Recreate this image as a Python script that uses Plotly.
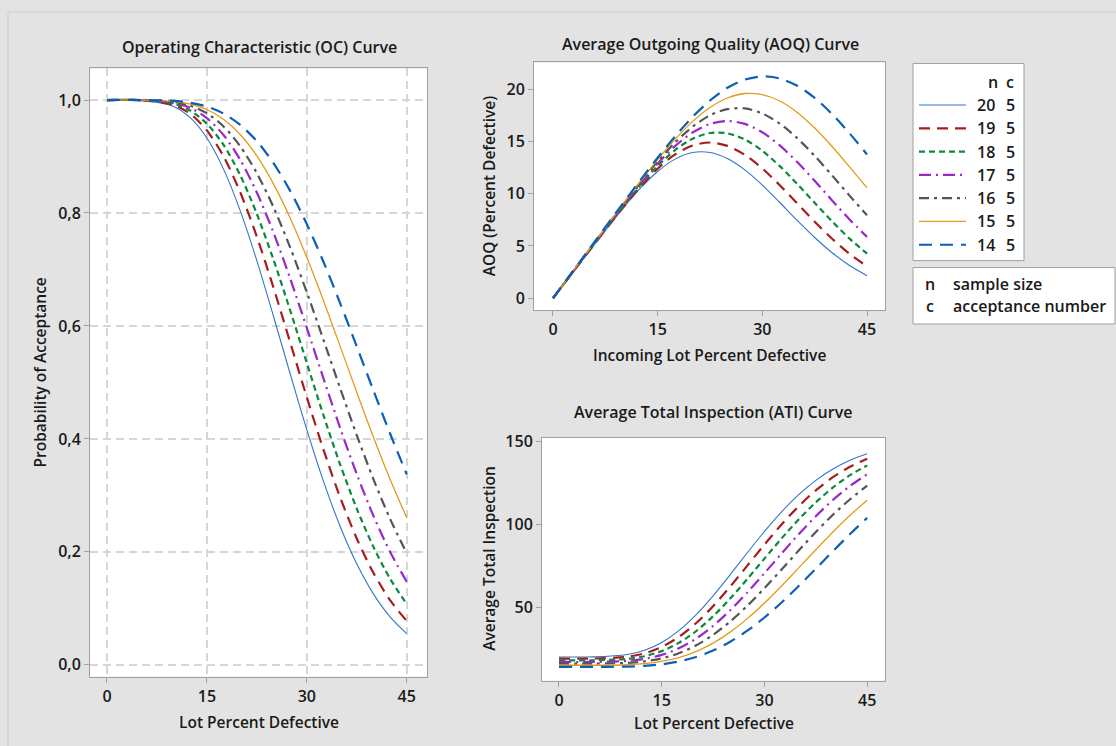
import plotly.graph_objects as go

W, H = 1116, 746

# ---------------- data ----------------
pct = [0, 5, 10, 12.5, 15, 17.5, 20, 22.5, 25, 27.5, 30, 32.5, 35, 37.5, 40, 42.5, 45]
n_values = [20, 19, 18, 17, 16, 15, 14]
c_value = 5

pa_20 = [1.0, 0.9997, 0.9887, 0.9688, 0.9327, 0.8777, 0.8042, 0.7156, 0.6172, 0.5154, 0.4164, 0.3252, 0.2454, 0.1788, 0.1256, 0.0850, 0.0553]
pa_19 = [1.0, 0.9998, 0.9914, 0.9757, 0.9463, 0.9003, 0.8369, 0.7581, 0.6678, 0.5711, 0.4739, 0.3811, 0.2968, 0.2236, 0.1629, 0.1146, 0.0777]
pa_18 = [1.0, 0.9999, 0.9936, 0.9814, 0.9581, 0.9205, 0.8671, 0.7985, 0.7174, 0.6278, 0.5344, 0.4420, 0.3550, 0.2766, 0.2088, 0.1525, 0.1077]
pa_17 = [1.0, 0.9999, 0.9953, 0.9862, 0.9681, 0.9381, 0.8943, 0.8362, 0.7653, 0.6842, 0.5968, 0.5073, 0.4197, 0.3377, 0.2639, 0.2002, 0.1471]
pa_16 = [1.0, 1.0, 0.9967, 0.9900, 0.9765, 0.9533, 0.9183, 0.8706, 0.8103, 0.7392, 0.6598, 0.5755, 0.4900, 0.4067, 0.3288, 0.2586, 0.1976]
pa_15 = [1.0, 1.0, 0.9978, 0.9930, 0.9832, 0.9659, 0.9389, 0.9010, 0.8516, 0.7913, 0.7216, 0.6450, 0.5643, 0.4827, 0.4032, 0.3285, 0.2608]
pa_14 = [1.0, 1.0, 0.9985, 0.9953, 0.9885, 0.9760, 0.9561, 0.9272, 0.8883, 0.8392, 0.7805, 0.7136, 0.6405, 0.5637, 0.4859, 0.4096, 0.3373]

aoq_20 = [0, 4.33, 8.57, 10.50, 12.13, 13.31, 13.94, 13.95, 13.37, 12.28, 10.83, 9.16, 7.44, 5.81, 4.35, 3.13, 2.16]
aoq_19 = [0, 4.37, 8.66, 10.65, 12.40, 13.76, 14.62, 14.90, 14.58, 13.72, 12.42, 10.82, 9.07, 7.32, 5.69, 4.25, 3.05]
aoq_18 = [0, 4.40, 8.74, 10.80, 12.65, 14.18, 15.26, 15.81, 15.78, 15.19, 14.11, 12.64, 10.93, 9.13, 7.35, 5.70, 4.27]
aoq_17 = [0, 4.43, 8.83, 10.93, 12.88, 14.56, 15.86, 16.68, 16.96, 16.68, 15.88, 14.62, 13.03, 11.23, 9.36, 7.54, 5.87]
aoq_16 = [0, 4.47, 8.90, 11.06, 13.09, 14.90, 16.41, 17.50, 18.10, 18.16, 17.68, 16.71, 15.32, 13.62, 11.75, 9.82, 7.94]
aoq_15 = [0, 4.50, 8.98, 11.17, 13.27, 15.21, 16.90, 18.25, 19.16, 19.59, 19.48, 18.87, 17.78, 16.29, 14.52, 12.57, 10.56]
aoq_14 = [0, 4.53, 9.05, 11.28, 13.44, 15.49, 17.34, 18.92, 20.14, 20.92, 21.23, 21.03, 20.33, 19.17, 17.62, 15.78, 13.76]

ati_20 = [20, 20.04, 21.47, 24.06, 28.75, 35.90, 45.45, 56.97, 69.76, 83.00, 95.87, 107.72, 118.10, 126.76, 133.67, 138.95, 142.81]
ati_19 = [19, 19.03, 20.13, 22.18, 26.03, 32.06, 40.37, 50.69, 62.52, 75.19, 87.92, 100.08, 111.12, 120.71, 128.66, 134.99, 139.82]
ati_18 = [18, 18.01, 18.84, 20.46, 23.53, 28.49, 35.54, 44.60, 55.30, 67.13, 79.46, 91.66, 103.14, 113.49, 122.44, 129.87, 135.78]
ati_17 = [17, 17.01, 17.63, 18.84, 21.24, 25.23, 31.06, 38.79, 48.22, 59.00, 70.63, 82.53, 94.18, 105.09, 114.90, 123.37, 130.44]
ati_16 = [16, 16.0, 16.44, 17.34, 19.15, 22.26, 26.95, 33.34, 41.42, 50.95, 61.59, 72.88, 84.34, 95.50, 105.94, 115.35, 123.52]
ati_15 = [15, 15.0, 15.30, 15.95, 17.27, 19.60, 23.25, 28.37, 35.03, 43.17, 52.58, 62.93, 73.82, 84.84, 95.57, 105.65, 114.79]
ati_14 = [14, 14.0, 14.20, 14.64, 15.56, 17.26, 19.97, 23.90, 29.19, 35.87, 43.85, 52.95, 62.89, 73.34, 83.92, 94.29, 104.13]

x_ticks = [0, 15, 30, 45]
oc_ticks = [0.0, 0.2, 0.4, 0.6, 0.8, 1.0]
aoq_ticks = [0, 5, 10, 15, 20]
ati_ticks = [50, 100, 150]

oc_series = [pa_20, pa_19, pa_18, pa_17, pa_16, pa_15, pa_14]
aoq_series = [aoq_20, aoq_19, aoq_18, aoq_17, aoq_16, aoq_15, aoq_14]
ati_series = [ati_20, ati_19, ati_18, ati_17, ati_16, ati_15, ati_14]

# ---------------- styles ----------------
styles = [
    dict(color="#2f76c8", width=1.1, dash="solid"),
    dict(color="#a51d1d", width=2.2, dash="11px,7px"),
    dict(color="#0b8a3c", width=2.2, dash="6px,4px"),
    dict(color="#9b27c9", width=2.2, dash="12px,5px,2px,5px"),
    dict(color="#555555", width=2.2, dash="10px,5px,3px,5px"),
    dict(color="#e59a1c", width=1.3, dash="solid"),
    dict(color="#0a60b4", width=2.2, dash="13px,8px"),
]

FONT = "Open Sans, Noto Sans, DejaVu Sans, sans-serif"
TXT = "#1a1a1a"
AX = "#a0a0a0"


def px(x):
    return x / W


def py(y):
    return 1 - y / H


fig = go.Figure()

for series, axes in ((oc_series, ("x", "y")), (aoq_series, ("x2", "y2")), (ati_series, ("x3", "y3"))):
    for vals, st, n in zip(series, styles, n_values):
        fig.add_trace(go.Scatter(
            x=pct, y=vals, mode="lines", xaxis=axes[0], yaxis=axes[1],
            line=dict(color=st["color"], width=st["width"], dash=st["dash"], shape="spline", smoothing=0.8),
            name=f"{n} {c_value}", showlegend=False, hoverinfo="skip",
        ))

tickfont = dict(family=FONT, size=16, color=TXT, weight=600)
common = dict(showline=True, mirror=True, linecolor=AX, linewidth=1, ticks="outside",
              ticklen=5, tickcolor=AX, tickfont=tickfont, zeroline=False)

fig.update_layout(
    width=W, height=H, autosize=False,
    margin=dict(l=0, r=0, t=0, b=0),
    paper_bgcolor="#e3e3e3", plot_bgcolor="#ffffff",
    separators=",.",
    font=dict(family=FONT, color=TXT),
    xaxis=dict(domain=[px(90), px(427)], range=[-2.55, 48.05], tickvals=x_ticks,
               showgrid=True, gridcolor="#d6d6d6", gridwidth=2, griddash="8px,5px", anchor="y", **common),
    yaxis=dict(domain=[py(676), py(62)], range=[-0.021, 1.056], tickvals=oc_ticks, tickformat=".1f",
               showgrid=True, gridcolor="#d6d6d6", gridwidth=2, griddash="8px,5px", anchor="x", **common),
    xaxis2=dict(domain=[px(534), px(885)], range=[-2.72, 47.58], tickvals=x_ticks,
                showgrid=False, anchor="y2", **common),
    yaxis2=dict(domain=[py(306), py(56)], range=[-1.14, 22.56], tickvals=aoq_ticks,
                showgrid=False, anchor="x2", **common),
    xaxis3=dict(domain=[px(542), px(885)], range=[-2.48, 47.6], tickvals=x_ticks,
                showgrid=False, anchor="y3", **common),
    yaxis3=dict(domain=[py(680), py(435)], range=[5.7, 152.4], tickvals=ati_ticks,
                showgrid=False, anchor="x3", **common),
)

shapes = []
# outer frame
shapes.append(dict(type="rect", xref="paper", yref="paper", x0=px(8), x1=px(1125), y0=py(760), y1=py(5),
                   line=dict(color="#cdcdcd", width=1), fillcolor="rgba(0,0,0,0)", layer="below"))
# legend boxes
shapes.append(dict(type="rect", xref="paper", yref="paper", x0=px(913), x1=px(1024), y0=py(256), y1=py(57),
                   line=dict(color=AX, width=1), fillcolor="#ffffff"))
shapes.append(dict(type="rect", xref="paper", yref="paper", x0=px(913), x1=px(1115), y0=py(320), y1=py(263),
                   line=dict(color=AX, width=1), fillcolor="#ffffff"))

annotations = []
row_y = [99, 122.5, 146, 169.5, 193, 216.5, 240]
lfont = dict(family=FONT, size=16, color=TXT, weight=600)
annotations.append(dict(text="n", x=px(993), y=py(76), xref="paper", yref="paper", showarrow=False,
                        xanchor="center", yanchor="middle", font=lfont))
annotations.append(dict(text="c", x=px(1010), y=py(76), xref="paper", yref="paper", showarrow=False,
                        xanchor="center", yanchor="middle", font=lfont))
for st, n, ry in zip(styles, n_values, row_y):
    shapes.append(dict(type="line", xref="paper", yref="paper", x0=px(919), x1=px(966), y0=py(ry), y1=py(ry),
                       line=dict(color=st["color"], width=st["width"], dash=st["dash"])))
    annotations.append(dict(text=str(n), x=px(997), y=py(ry), xref="paper", yref="paper", showarrow=False,
                            xanchor="right", yanchor="middle", font=lfont))
    annotations.append(dict(text=str(c_value), x=px(1010), y=py(ry), xref="paper", yref="paper", showarrow=False,
                            xanchor="center", yanchor="middle", font=lfont))

for sym, desc, yy in (("n", "sample size", 280), ("c", "acceptance number", 302)):
    annotations.append(dict(text=sym, x=px(930), y=py(yy), xref="paper", yref="paper", showarrow=False,
                            xanchor="center", yanchor="middle", font=lfont))
    annotations.append(dict(text=desc, x=px(951), y=py(yy), xref="paper", yref="paper", showarrow=False,
                            xanchor="left", yanchor="middle", font=lfont))

tfont = dict(family=FONT, size=16, color=TXT, weight=600)
afont = dict(family=FONT, size=15.5, color=TXT, weight=600)
for text, x, y, ang, f in (
    ("Operating Characteristic (OC) Curve", 259, 40, 0, tfont),
    ("Average Outgoing Quality (AOQ) Curve", 710, 37, 0, tfont),
    ("Average Total Inspection (ATI) Curve", 713, 409, 0, tfont),
    ("Probability of Acceptance", 40, 369, -90, afont),
    ("Lot Percent Defective", 259, 722, 0, afont),
    ("AOQ (Percent Defective)", 489, 181, -90, afont),
    ("Incoming Lot Percent Defective", 709, 351, 0, afont),
    ("Average Total Inspection", 489, 557, -90, afont),
    ("Lot Percent Defective", 714, 723, 0, afont),
):
    annotations.append(dict(text=text, x=px(x), y=py(y), xref="paper", yref="paper", showarrow=False,
                            xanchor="center", yanchor="middle", textangle=ang, font=f))

fig.update_layout(shapes=shapes, annotations=annotations)
fig.write_html("out.html",
               config={"displayModeBar": False, "staticPlot": True},
               post_script="document.body.style.margin='0';document.body.style.overflow='hidden';"
                           "document.body.style.background='#e3e3e3';")
